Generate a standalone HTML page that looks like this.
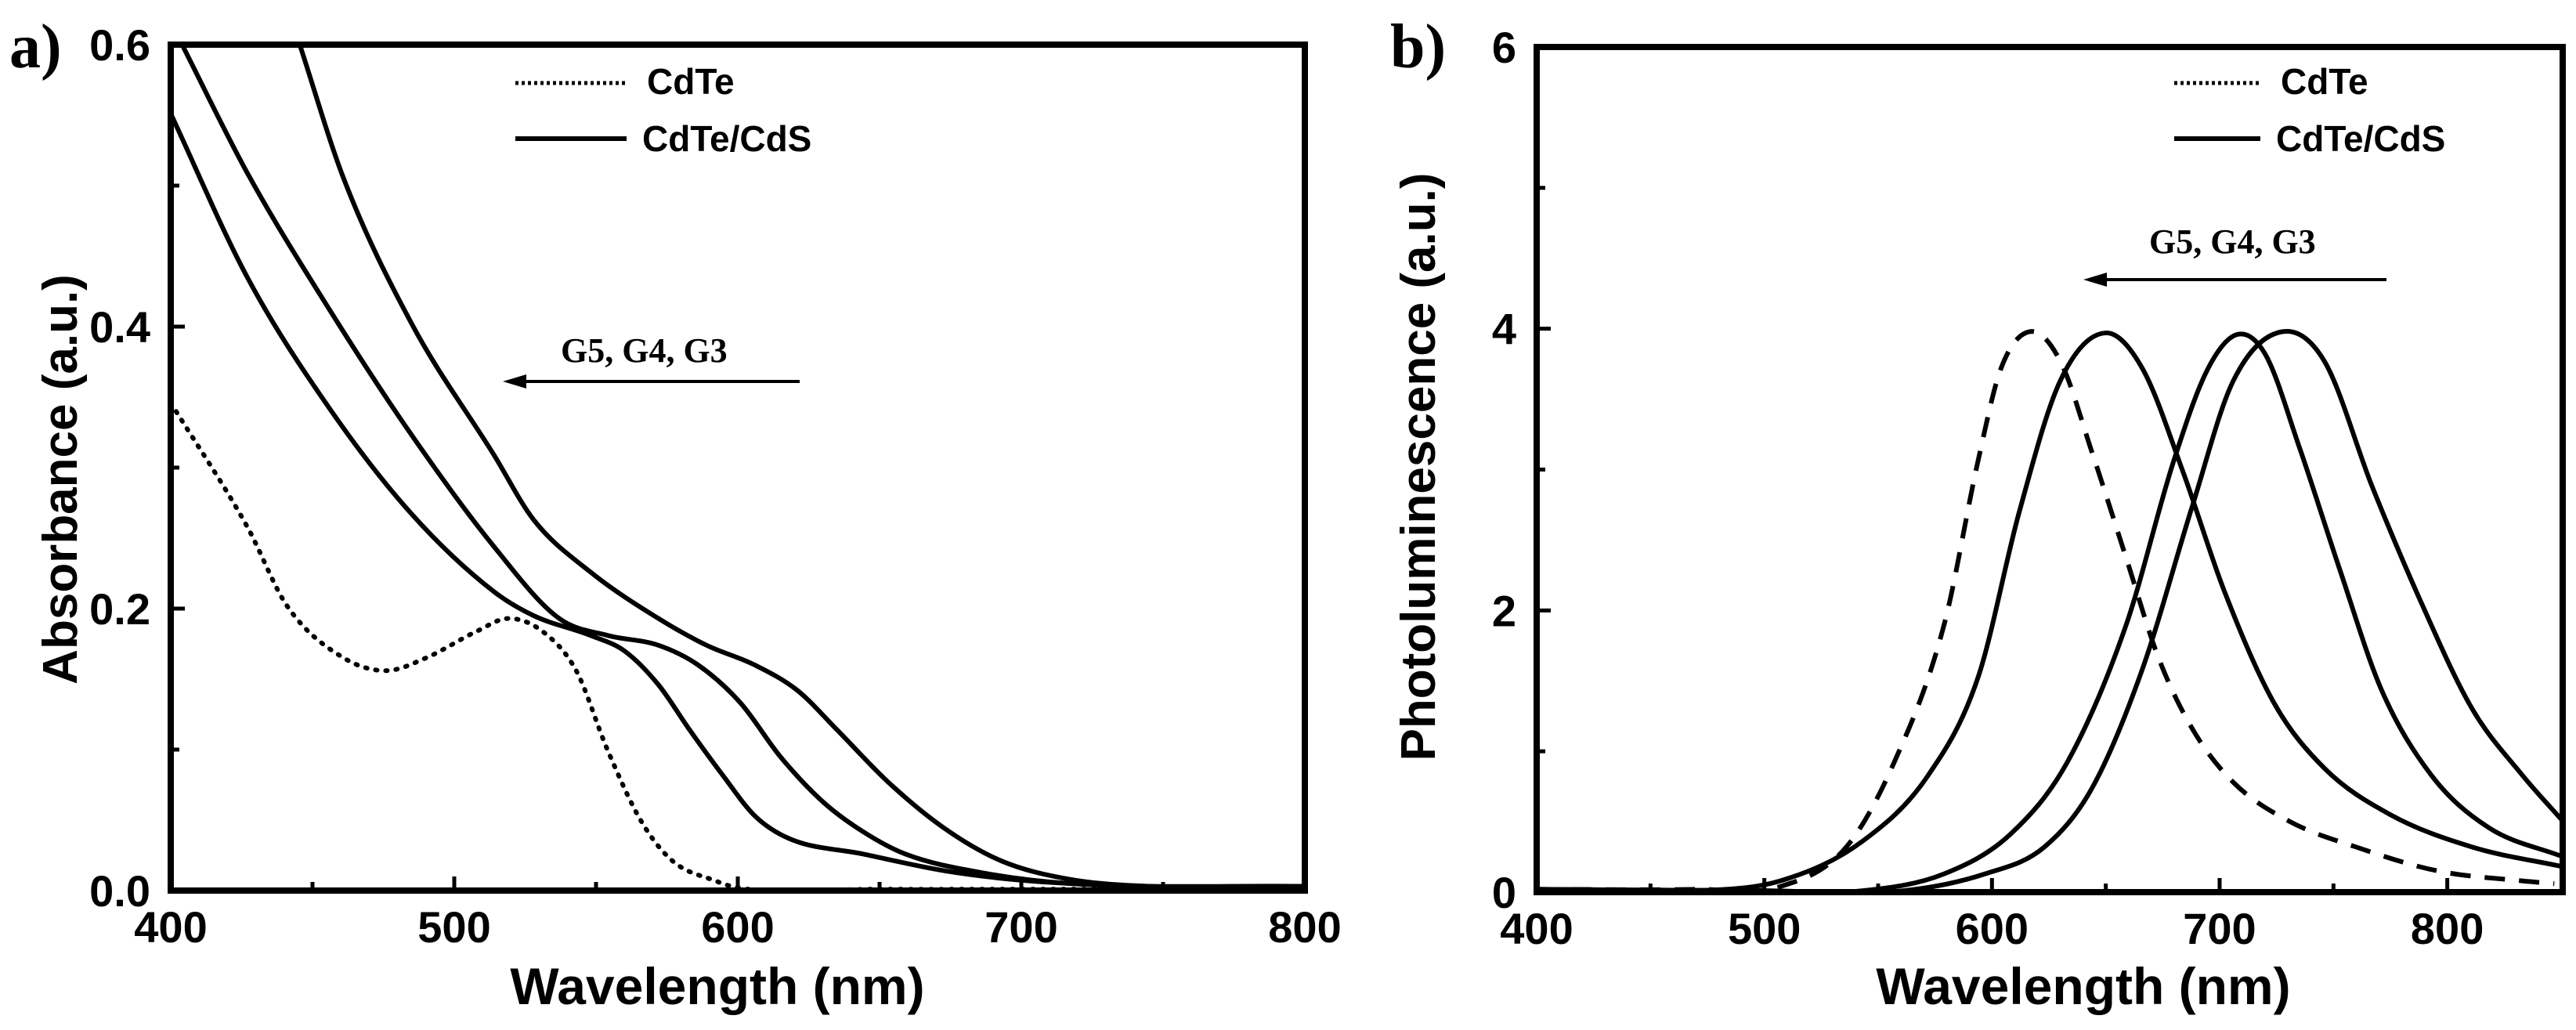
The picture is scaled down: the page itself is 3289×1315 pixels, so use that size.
<!DOCTYPE html>
<html><head><meta charset="utf-8"><style>
html,body{margin:0;padding:0;background:#fff;}
svg{display:block;}
text{font-family:"Liberation Sans",Arial,sans-serif;font-weight:bold;fill:#000;}
.serif{font-family:"Liberation Serif",serif;}
</style></head><body>
<svg id="fig" width="3289" height="1315" viewBox="0 0 3289 1315" xmlns="http://www.w3.org/2000/svg"></svg>
<script>
// ---- Panel a: absorbance data ----
const absCdTeX = [400,427,441,461,476,490,508,519,531,543,554,566,577,592,600,650,700,800];
const absCdTeY = [0.346,0.258,0.202,0.165,0.156,0.165,0.184,0.193,0.184,0.156,0.100,0.049,0.021,0.007,0.002,0.001,0.001,0.001];
const absG5X = [400,427,456,485,514,528,548,560,572,583,595,606,618,644,673,702,745,800];
const absG5Y = [0.551,0.435,0.342,0.267,0.212,0.195,0.181,0.170,0.146,0.114,0.081,0.053,0.037,0.026,0.014,0.007,0.003,0.003];
const absG4X = [404,427,456,485,514,537,554,572,586,601,615,630,644,659,688,717,800];
const absG4Y = [0.600,0.509,0.412,0.323,0.244,0.193,0.181,0.174,0.160,0.133,0.095,0.063,0.042,0.026,0.012,0.005,0.003];
const absG3X = [445.5,461,485,514,528,548,572,589,606,621,635,653,673,693,717,745,800];
const absG3Y = [0.600,0.505,0.402,0.309,0.263,0.226,0.193,0.174,0.160,0.142,0.114,0.077,0.044,0.021,0.008,0.003,0.003];
const absXTicks = [400,500,600,700,800];
const absYTicks = [0.0,0.2,0.4,0.6];
const absYLabels = ["0.0","0.2","0.4","0.6"];
// ---- Panel b: PL data ----
const plCdTeX = [400,470,507,536,557,579,594,604,617,630,644,659,673,688,706,731,760,796,833,847];
const plCdTeY = [0.02,0.02,0.04,0.32,0.92,1.90,3.07,3.72,3.98,3.77,3.12,2.37,1.67,1.16,0.78,0.50,0.32,0.15,0.08,0.06];
const plG5X = [400,471,507,543,572,594,612,630,650,666,684,702,724,746,775,811,851];
const plG5Y = [0.02,0.01,0.08,0.36,0.83,1.53,2.70,3.63,3.97,3.72,2.98,2.14,1.34,0.88,0.55,0.32,0.18];
const plG4X = [400,500,543,579,608,633,659,680,695,708,720,735,753,771,793,818,851];
const plG4Y = [0.02,0.01,0.01,0.13,0.41,0.92,1.90,3.07,3.72,3.96,3.82,3.16,2.28,1.44,0.83,0.46,0.25];
const plG3X = [400,500,561,597,623,644,666,688,706,728,746,767,789,811,833,851];
const plG3Y = [0.02,0.01,0.01,0.13,0.32,0.74,1.58,2.74,3.63,3.98,3.77,2.88,2.04,1.30,0.83,0.50];
const plXTicks = [400,500,600,700,800];
const plYTicks = [0,2,4,6];
const plYLabels = ["0","2","4","6"];

const NS="http://www.w3.org/2000/svg";
const svg=document.getElementById('fig');
function mk(tag,attrs,parent){const e=document.createElementNS(NS,tag);for(const k in attrs)e.setAttribute(k,attrs[k]);(parent||svg).appendChild(e);return e;}
function txt(s,attrs,parent){const e=mk('text',attrs,parent);e.textContent=s;return e;}
function smooth(pts){
  const n=pts.length;
  const sl=[];
  for(let i=0;i<n-1;i++)sl.push((pts[i+1][1]-pts[i][1])/(pts[i+1][0]-pts[i][0]));
  const m=pts.map((p,i)=>i===0?sl[0]:(i===n-1?sl[n-2]:(sl[i-1]+sl[i])/2));
  let d=`M${pts[0][0]},${pts[0][1]}`;
  for(let i=0;i<n-1;i++){
    const h=(pts[i+1][0]-pts[i][0])/3;
    d+=` C${pts[i][0]+h},${pts[i][1]+m[i]*h} ${pts[i+1][0]-h},${pts[i+1][1]-m[i+1]*h} ${pts[i+1][0]},${pts[i+1][1]}`;
  }
  return d;
}
function panel(cfg){
  const g=mk('g',{});
  
  
  const sx=v=>cfg.L+(v-cfg.x0)/(cfg.x1-cfg.x0)*(cfg.R-cfg.L);
  const sy=v=>cfg.B-(v-cfg.y0)/(cfg.y1-cfg.y0)*(cfg.B-cfg.T);
  const clipId=cfg.name+'-clip';
  const cp=mk('clipPath',{id:clipId},g);
  mk('rect',{x:cfg.L,y:cfg.T,width:cfg.R-cfg.L,height:cfg.B-cfg.T},cp);
  cfg.series.forEach(s=>{
    const pts=s.x.map((v,i)=>[sx(v),sy(s.y[i])]);
    const p=mk('path',{d:smooth(pts),fill:'none',stroke:'#000','stroke-width':6,'stroke-linejoin':'round','clip-path':`url(#${clipId})`},g);
    if(s.dash){p.setAttribute('stroke-dasharray',s.dash);p.setAttribute('stroke-linecap',s.cap||'butt');}
    
    
  });
  cfg.xTicks.forEach((v,i)=>{
    const x=sx(v);
    const t=mk('line',{x1:x,y1:cfg.B,x2:x,y2:cfg.B-18,stroke:'#000','stroke-width':5},g);
    
    
    const l=txt(String(v),{x:x,y:cfg.B+66,'text-anchor':'middle','font-size':56},g);
    
    
    if(i<cfg.xTicks.length-1){
      const xm=sx(v+(cfg.xTicks[1]-cfg.xTicks[0])/2);
      if(xm<cfg.R-5){const m=mk('line',{x1:xm,y1:cfg.B,x2:xm,y2:cfg.B-11,stroke:'#000','stroke-width':5},g);
      
      }
    }
  });
  cfg.yTicks.forEach((v,i)=>{
    const y=sy(v);
    const t=mk('line',{x1:cfg.L,y1:y,x2:cfg.L+18,y2:y,stroke:'#000','stroke-width':5},g);
    
    
    const l=txt(cfg.yLabels[i],{x:cfg.L-26,y:y+20,'text-anchor':'end','font-size':56},g);
    
    
    if(i<cfg.yTicks.length-1){
      const ym=sy(v+(cfg.yTicks[1]-cfg.yTicks[0])/2);
      const m=mk('line',{x1:cfg.L,y1:ym,x2:cfg.L+11,y2:ym,stroke:'#000','stroke-width':5},g);
      
      
    }
  });
  const fr=mk('rect',{x:cfg.L,y:cfg.T,width:cfg.R-cfg.L,height:cfg.B-cfg.T,fill:'none',stroke:'#000','stroke-width':8},g);
  
  
  const xt=txt('Wavelength (nm)',{x:cfg.xtX,y:1282,'text-anchor':'middle','font-size':66},g);
  
  
  const yt=txt(cfg.ytitle,{x:0,y:0,'text-anchor':'middle','font-size':62,transform:`translate(${cfg.ytX},${cfg.ytY}) rotate(-90)`},g);
  
  
  const pl=txt(cfg.label,{x:cfg.labX,y:86,'font-size':80,'class':'serif'},g);
  
  
  const l1=mk('line',{x1:cfg.legX1,y1:cfg.legY1-14,x2:cfg.legX2,y2:cfg.legY1-14,stroke:'#000','stroke-width':5,'stroke-dasharray':'4 4'},g);
  
  
  const lt1=txt('CdTe',{x:cfg.legX2+26,y:cfg.legY1,'font-size':46},g);
  
  
  const l2=mk('line',{x1:cfg.legX1,y1:cfg.legY1+57,x2:cfg.legX2,y2:cfg.legY1+57,stroke:'#000','stroke-width':6},g);
  
  
  const lt2=txt('CdTe/CdS',{x:cfg.legX2+20,y:cfg.legY1+73,'font-size':46},g);
  
  
  const an=txt('G5, G4, G3',{x:cfg.anX,y:cfg.anY,'font-size':44,'class':'serif'},g);
  
  
  const ar=mk('line',{x1:cfg.arX1,y1:cfg.arY,x2:cfg.arX2+20,y2:cfg.arY,stroke:'#000','stroke-width':4},g);
  
  
  const ah=mk('polygon',{points:`${cfg.arX2},${cfg.arY} ${cfg.arX2+30},${cfg.arY-9} ${cfg.arX2+30},${cfg.arY+9}`,fill:'#000'},g);
  
  
}
panel({name:'absorbance-panel',L:218,R:1666,T:57,B:1137,x0:400,x1:800,y0:0,y1:0.6,
  xTicks:absXTicks,yTicks:absYTicks,yLabels:absYLabels,ytitle:'Absorbance (a.u.)',ytX:98,ytY:612,xtX:916,
  label:'a)',labX:12,legX1:658,legX2:800,legY1:120,anX:716,anY:462,arX1:1021,arX2:642,arY:487,
  series:[
    {name:'cdte-absorbance',x:absCdTeX,y:absCdTeY,dash:'2 11',cap:'round'},
    {name:'g5-absorbance',x:absG5X,y:absG5Y},
    {name:'g4-absorbance',x:absG4X,y:absG4Y},
    {name:'g3-absorbance',x:absG3X,y:absG3Y}]});
panel({name:'pl-panel',L:1962,R:3272,T:60,B:1139,x0:400,x1:850.7,y0:0,y1:6,
  xTicks:plXTicks,yTicks:plYTicks,yLabels:plYLabels,ytitle:'Photoluminescence (a.u.)',ytX:1832,ytY:596,xtX:2660,
  label:'b)',labX:1775,legX1:2776,legX2:2886,legY1:120,anX:2744,anY:323,arX1:3047,arX2:2660,arY:357,
  series:[
    {name:'cdte-pl',x:plCdTeX,y:plCdTeY,dash:'26 18'},
    {name:'g5-pl',x:plG5X,y:plG5Y},
    {name:'g4-pl',x:plG4X,y:plG4Y},
    {name:'g3-pl',x:plG3X,y:plG3Y}]});
</script>
</body></html>
